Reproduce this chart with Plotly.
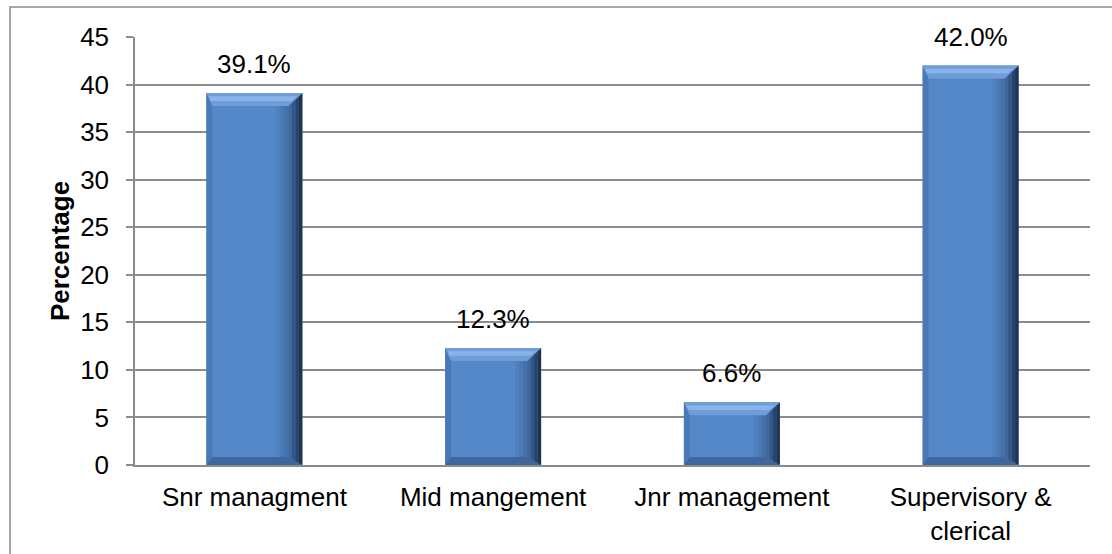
import plotly.graph_objects as go

categories = ["Snr managment", "Mid mangement", "Jnr management", "Supervisory &<br>clerical"]
values = [39.1, 12.3, 6.6, 42.0]
y_ticks = [0, 5, 10, 15, 20, 25, 30, 35, 40, 45]

W, H = 1112, 554
ML, MR, MT, MB = 135, 22, 37, 89
pw, ph = W - ML - MR, H - MT - MB
ymax = 45
bar_w = 0.402
FONT = "Liberation Sans, Arial, sans-serif"
FS = 26

fig = go.Figure()
fig.add_trace(go.Bar(
    x=list(range(len(categories))), y=values, width=bar_w,
    marker=dict(color="#5588C8", line=dict(width=0)),
    hoverinfo="skip",
))

# value labels above bars
for i, v in enumerate(values):
    fig.add_annotation(x=i, y=v, xref="x", yref="y", text=f"{v:.1f}%", showarrow=False,
                       yanchor="bottom", xanchor="center", yshift=12,
                       font=dict(family=FONT, size=FS, color="#000000"))

# bevel shapes derived from data (pixel sizes converted to data units)
px_x = len(categories) / pw
px_y = ymax / ph


def path(pts):
    return "M " + " L ".join(f"{a:.5f},{b:.5f}" for a, b in pts) + " Z"


shapes = []
for i, v in enumerate(values):
    x0, x1 = i - bar_w / 2, i + bar_w / 2
    tb, bb, lb, rb = 13 * px_y, 8 * px_y, 6 * px_x, 14 * px_x
    # left bevel
    shapes.append(dict(type="path", xref="x", yref="y", line=dict(width=0), fillcolor="#4A79B8",
                       path=path([(x0, 0), (x0 + lb, bb), (x0 + lb, v - tb), (x0, v)])))
    # bottom bevel
    shapes.append(dict(type="path", xref="x", yref="y", line=dict(width=0), fillcolor="#3F679F",
                       path=path([(x0, 0), (x1, 0), (x1 - rb, bb), (x0 + lb, bb)])))
    # right shading gradient on face
    face_cols = ["rgba(40,70,115,0.10)", "rgba(40,70,115,0.22)", "rgba(40,70,115,0.35)"]
    for k, c in enumerate(face_cols):
        xa = x1 - rb - (len(face_cols) - k) * 4 * px_x
        xb = xa + 4 * px_x
        shapes.append(dict(type="path", xref="x", yref="y", line=dict(width=0), fillcolor=c,
                           path=path([(xa, bb), (xb, bb), (xb, v - tb), (xa, v - tb)])))
    # right bevel with gradient strips
    rcols = ["#40679C", "#345684", "#28446A", "#1E3452"]
    n = len(rcols)
    for k, c in enumerate(rcols):
        xa = x1 - rb + k * rb / n
        xb = x1 - rb + (k + 1) * rb / n
        ya_b = bb * (1 - k / n)
        yb_b = bb * (1 - (k + 1) / n)
        ya_t = v - tb * (1 - k / n)
        yb_t = v - tb * (1 - (k + 1) / n)
        shapes.append(dict(type="path", xref="x", yref="y", line=dict(width=0), fillcolor=c,
                           path=path([(xa, ya_b), (xb, yb_b), (xb, yb_t), (xa, ya_t)])))
    # top bevel (two tones)
    shapes.append(dict(type="path", xref="x", yref="y", line=dict(width=0), fillcolor="#6E9DDA",
                       path=path([(x0, v), (x1, v), (x1 - rb, v - tb), (x0 + lb, v - tb)])))
    shapes.append(dict(type="path", xref="x", yref="y", line=dict(width=0), fillcolor="#8AB3E8",
                       path=path([(x0 + lb * 0.4, v - tb * 0.25), (x1 - rb * 0.4, v - tb * 0.25),
                                  (x1 - rb * 0.75, v - tb * 0.6), (x0 + lb * 0.75, v - tb * 0.6)])))

# outer chart border
shapes.append(dict(type="rect", xref="paper", yref="paper",
                   x0=(10 - ML) / pw, x1=(W + 5 - ML) / pw,
                   y0=-(H + 5 - MT - ph) / ph, y1=1 + (MT - 7) / ph,
                   line=dict(color="#8C8C8C", width=1.5), fillcolor="rgba(0,0,0,0)", layer="below"))

fig.update_layout(
    width=W, height=H, margin=dict(l=ML, r=MR, t=MT, b=MB, autoexpand=False),
    paper_bgcolor="white", plot_bgcolor="white",
    showlegend=False, shapes=shapes,
    font=dict(family=FONT, size=FS, color="#000000"),
    xaxis=dict(tickmode="array", tickvals=list(range(len(categories))), ticktext=categories,
               range=[-0.5, len(categories) - 0.5], showgrid=False, zeroline=False,
               showline=True, linecolor="#8C8C8C", linewidth=1.5, ticks="",
               tickfont=dict(size=FS), ticklabelstandoff=8, automargin=False),
    yaxis=dict(range=[0, ymax], tickvals=y_ticks, showgrid=True, gridcolor="#8C8C8C", gridwidth=1.5,
               zeroline=False, showline=True, linecolor="#8C8C8C", linewidth=1.5,
               ticks="outside", ticklen=7, tickcolor="#8C8C8C", tickwidth=1.5,
               tickfont=dict(size=FS), ticklabelstandoff=12, automargin=False,
               title=dict(text="<b>Percentage</b>", font=dict(size=FS), standoff=3)),
    bargap=0.6,
)

fig.write_html("out.html", config={"displayModeBar": False},
               post_script="document.body.style.margin='0';")
